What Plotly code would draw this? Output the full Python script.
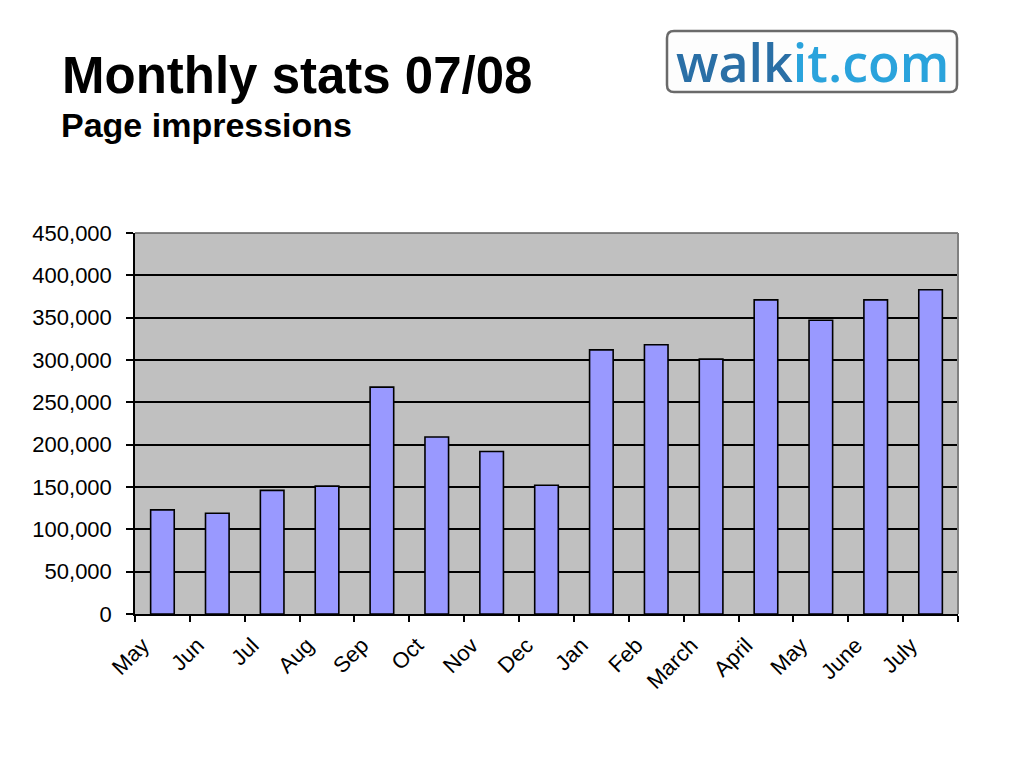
import plotly.graph_objects as go

months = ["May", "Jun", "Jul", "Aug", "Sep", "Oct", "Nov", "Dec",
          "Jan", "Feb", "March", "April", "May", "June", "July"]
impressions = [123000, 119000, 146000, 151000, 268000, 209000, 192000, 152000,
               312000, 318000, 301000, 371000, 347000, 371000, 383000]
y_ticks = list(range(0, 450001, 50000))

positions = list(range(len(months)))
label_pos = [p - 0.36 for p in positions]

# page offset of the browser's default body margin
OFF = 8
L, R, T, B = 135, 958, 233, 614
PW, PH = R - L, B - T


def px(x):
    return (x - L) / PW


def py(y):
    return (B - y) / PH


# rounded logo box path (paper coords)
x0, x1, y0, y1, r = 667, 957, 31, 92, 7
logo_path = (
    f"M {px(x0 + r)} {py(y0)} L {px(x1 - r)} {py(y0)} "
    f"Q {px(x1)} {py(y0)} {px(x1)} {py(y0 + r)} "
    f"L {px(x1)} {py(y1 - r)} Q {px(x1)} {py(y1)} {px(x1 - r)} {py(y1)} "
    f"L {px(x0 + r)} {py(y1)} Q {px(x0)} {py(y1)} {px(x0)} {py(y1 - r)} "
    f"L {px(x0)} {py(y0 + r)} Q {px(x0)} {py(y0)} {px(x0 + r)} {py(y0)} Z"
)

fig = go.Figure()
fig.add_trace(go.Bar(
    x=positions, y=impressions, width=0.43,
    marker=dict(color="#9999FF", line=dict(color="#000000", width=1.6)),
    hoverinfo="skip",
))

fig.update_layout(
    width=1024, height=768,
    margin=dict(l=L - OFF, r=1024 - R + OFF, t=T - OFF, b=768 - B + OFF),
    paper_bgcolor="white", plot_bgcolor="#C0C0C0",
    showlegend=False,
    font=dict(family="Liberation Sans, Arial, sans-serif", color="black"),
    xaxis=dict(
        range=[-0.5, len(months) - 0.5],
        tickmode="array", tickvals=label_pos, ticktext=months,
        tickangle=-45, tickfont=dict(size=22),
        ticks="outside", ticklen=8, tickcolor="rgba(0,0,0,0)",
        showgrid=False, zeroline=False,
        showline=True, linecolor="black", linewidth=1.5,
        minor=dict(ticks="outside", tick0=-0.5, dtick=1, ticklen=6,
                   tickcolor="black", tickwidth=1.5, showgrid=False),
        automargin=False, fixedrange=True,
    ),
    yaxis=dict(
        range=[0, 450000], tickmode="array", tickvals=y_ticks,
        tickformat=",d", tickfont=dict(size=22),
        ticks="outside", ticklen=7, tickcolor="black", tickwidth=1.5,
        ticklabelstandoff=10,
        showgrid=True, gridcolor="black", gridwidth=1.6,
        zeroline=False, showline=True, linecolor="black", linewidth=1.5,
        automargin=False, fixedrange=True,
    ),
    shapes=[
        dict(type="line", xref="paper", yref="paper", x0=0, x1=1, y0=1, y1=1,
             line=dict(color="#606060", width=1.6)),
        dict(type="line", xref="paper", yref="paper", x0=1, x1=1, y0=0, y1=1,
             line=dict(color="#808080", width=2)),
        dict(type="path", xref="paper", yref="paper", path=logo_path,
             line=dict(color="#6a6a6a", width=2.5), fillcolor="#FDFDFD"),
    ],
    annotations=[
        dict(text="<b>Monthly stats 07/08</b>", xref="paper", yref="paper",
             x=px(60), y=py(106), xanchor="left", yanchor="bottom",
             showarrow=False, font=dict(size=51, family="Liberation Sans, Arial, sans-serif")),
        dict(text="<b>Page impressions</b>", xref="paper", yref="paper",
             x=px(59), y=py(146), xanchor="left", yanchor="bottom",
             showarrow=False, font=dict(size=34, family="Liberation Sans, Arial, sans-serif")),
        dict(text="<span style='color:#2A6FA6'>walk</span><span style='color:#2AA3DC'>it.com</span>",
             xref="paper", yref="paper",
             x=px(812), y=py(61), xanchor="center", yanchor="middle",
             showarrow=False, font=dict(size=52, family="Open Sans, sans-serif", weight=600)),
    ],
)

fig.write_html("out.html")
